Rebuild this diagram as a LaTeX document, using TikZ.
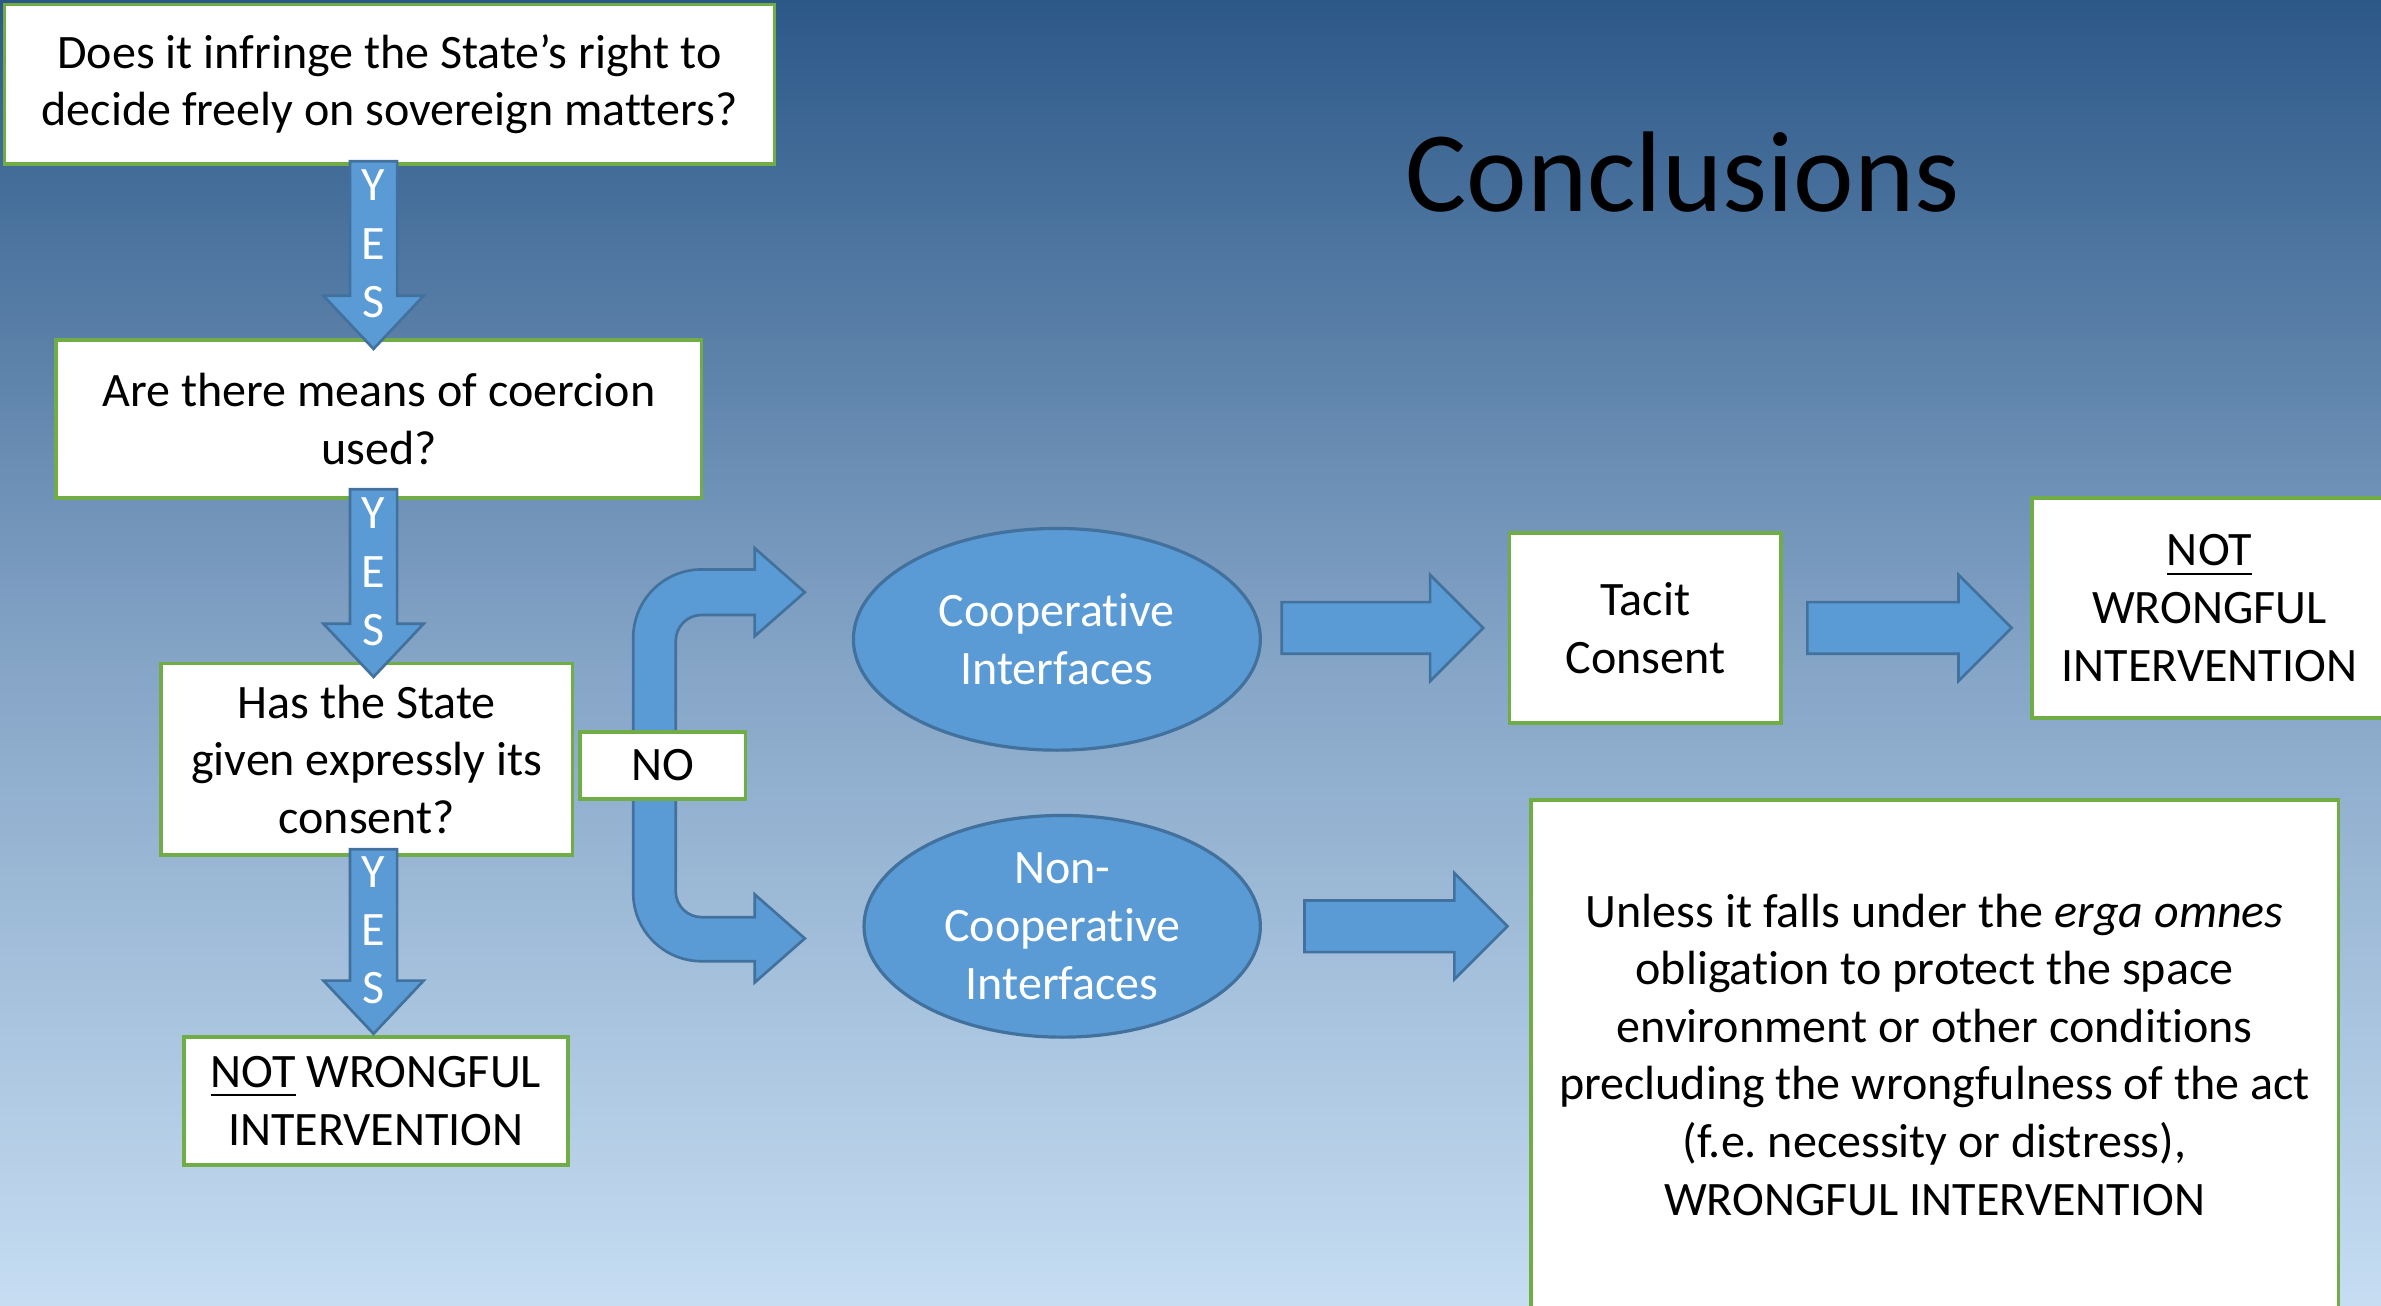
\documentclass[tikz,border=0pt]{standalone}
\usepackage{fontspec}
\setmainfont[Ligatures=NoCommon]{Carlito}
\frenchspacing
\usetikzlibrary{shapes.geometric, calc}
\definecolor{bgtop}{RGB}{44,88,136}
\definecolor{bgmid}{RGB}{132,164,198}
\definecolor{bgbot}{RGB}{198,221,242}
\definecolor{boxgreen}{RGB}{112,173,71}
\definecolor{shapeblue}{RGB}{91,155,213}
\definecolor{shapeedge}{RGB}{65,113,156}
\tikzset{
  qbox/.style={
    rectangle, draw=boxgreen, line width=0.7pt, fill=white,
    align=center, inner sep=0pt, text=black,
    font=\fontsize{9.0}{10.8}\selectfont
  },
  blob/.style={
    ellipse, draw=shapeedge, line width=0.6pt, fill=shapeblue,
    align=center, inner sep=0pt, text=white,
    font=\fontsize{9.0}{10.8}\selectfont
  },
  blockarrow/.style={fill=shapeblue, draw=shapeedge, line width=0.5pt},
  yeslabel/.style={align=center, text=white, inner sep=0pt,
    font=\fontsize{9.0}{10.9}\selectfont},
}

\begin{document}
\begin{tikzpicture}
  \useasboundingbox (0,0) rectangle (15.68,-8.60);
  \clip (0,0) rectangle (15.68,-8.60);
  \shade[top color=bgtop, bottom color=bgbot, middle color=bgmid]
    (0,0) rectangle (15.68,-8.60);

  \node[font=\fontsize{21.5}{26}\selectfont] (title) at (11.08,-1.13) {Conclusions};

  % split arrow behind the NO box
  \filldraw[blockarrow] (5.30,-3.90) -- (4.97,-3.61) -- (4.97,-3.75) -- (4.62,-3.75)
    arc[start angle=90, end angle=180, radius=0.45] -- (4.17,-5.88)
    arc[start angle=180, end angle=270, radius=0.45] -- (4.97,-6.33)
    -- (4.97,-6.47) -- (5.30,-6.18) -- (4.97,-5.89) -- (4.97,-6.04) -- (4.62,-6.04)
    arc[start angle=270, end angle=180, radius=0.17] -- (4.45,-4.22)
    arc[start angle=180, end angle=90, radius=0.17] -- (4.97,-4.05)
    -- (4.97,-4.19) -- cycle;

  \node[qbox, minimum width=5.07cm, minimum height=1.05cm] (q1) at (2.565,-0.555)
    {Does it infringe the State’s right to\\decide freely on sovereign matters?};
  \node[qbox, minimum width=4.25cm, minimum height=1.04cm] (q2) at (2.495,-2.76)
    {Are there means of coercion\\used?};
  \node[qbox, minimum width=2.71cm, minimum height=1.26cm] (q3) at (2.415,-5.00)
    {Has the State\\given expressly its\\consent?};
  \node[qbox, minimum width=2.53cm, minimum height=0.84cm] (q4) at (2.475,-7.25)
    {\underline{NOT} WRONGFUL\\INTERVENTION};
  \node[qbox, minimum width=1.09cm, minimum height=0.44cm] (no) at (4.365,-5.04) {NO};

  \node[blob, minimum width=2.68cm, minimum height=1.46cm] (coop) at (6.96,-4.21)
    {Cooperative\\Interfaces};
  \node[blob, minimum width=2.61cm, minimum height=1.46cm] (noncoop) at (6.995,-6.10)
    {Non-\\Cooperative\\Interfaces};

  \node[qbox, minimum width=1.79cm, minimum height=1.25cm] (tacit) at (10.835,-4.135)
    {Tacit\\Consent};
  \node[qbox, minimum width=2.34cm, minimum height=1.45cm] (notw) at (14.55,-4.005)
    {\underline{NOT}\\WRONGFUL\\INTERVENTION};
  \node[qbox, minimum width=5.32cm, minimum height=3.35cm] (wrong) at (12.74,-6.945)
    {Unless it falls under the \textit{erga omnes}\\obligation to protect the space\\
     environment or other conditions\\precluding the wrongfulness of the act\\
     (f.e. necessity or distress),\\WRONGFUL INTERVENTION};

  % YES arrows
  \coordinate (yesx) at (2.46,0);
  \foreach \a/\b/\i/\ds/\de in {q1/q2/1/0.03/0.07, q2/q3/2/0.07/0.10, q3/q4/3/0.05/-0.01}{
    \coordinate (ys\i) at ($(\a.south -| yesx)+(0,\ds)$);
    \coordinate (ye\i) at ($(\b.north -| yesx)+(0,-\de)$);
    \filldraw[blockarrow] let \p1=(ys\i), \p2=(ye\i) in
      (\x1-0.155cm,\y1) -- (\x1+0.155cm,\y1) -- (\x1+0.155cm,\y2+0.35cm)
      -- (\x1+0.33cm,\y2+0.35cm) -- (\x2,\y2) -- (\x1-0.33cm,\y2+0.35cm)
      -- (\x1-0.155cm,\y2+0.35cm) -- cycle;
    \node[yeslabel] (yes\i) at ($(ys\i)!0.44!(ye\i)$) {Y\\E\\S};
  }

  % arrows to the right
  \coordinate (rs1) at ($(coop.east |- tacit.west)+(0.13,0)$);
  \coordinate (re1) at ($(tacit.west)+(-0.16,0)$);
  \coordinate (rs2) at ($(tacit.east)+(0.16,0)$);
  \coordinate (re2) at ($(notw.west |- tacit.east)+(-0.12,0)$);
  \coordinate (rs3) at ($(noncoop.east)+(0.28,0)$);
  \coordinate (re3) at ($(wrong.west |- noncoop.east)+(-0.14,0)$);
  \foreach \s/\e in {rs1/re1, rs2/re2, rs3/re3}
    \filldraw[blockarrow] let \p1=(\s), \p2=(\e) in
      (\x1,\y2+0.17cm) -- (\x2-0.35cm,\y2+0.17cm) -- (\x2-0.35cm,\y2+0.35cm)
      -- (\x2,\y2) -- (\x2-0.35cm,\y2-0.35cm) -- (\x2-0.35cm,\y2-0.17cm)
      -- (\x1,\y2-0.17cm) -- cycle;
\end{tikzpicture}
\end{document}
